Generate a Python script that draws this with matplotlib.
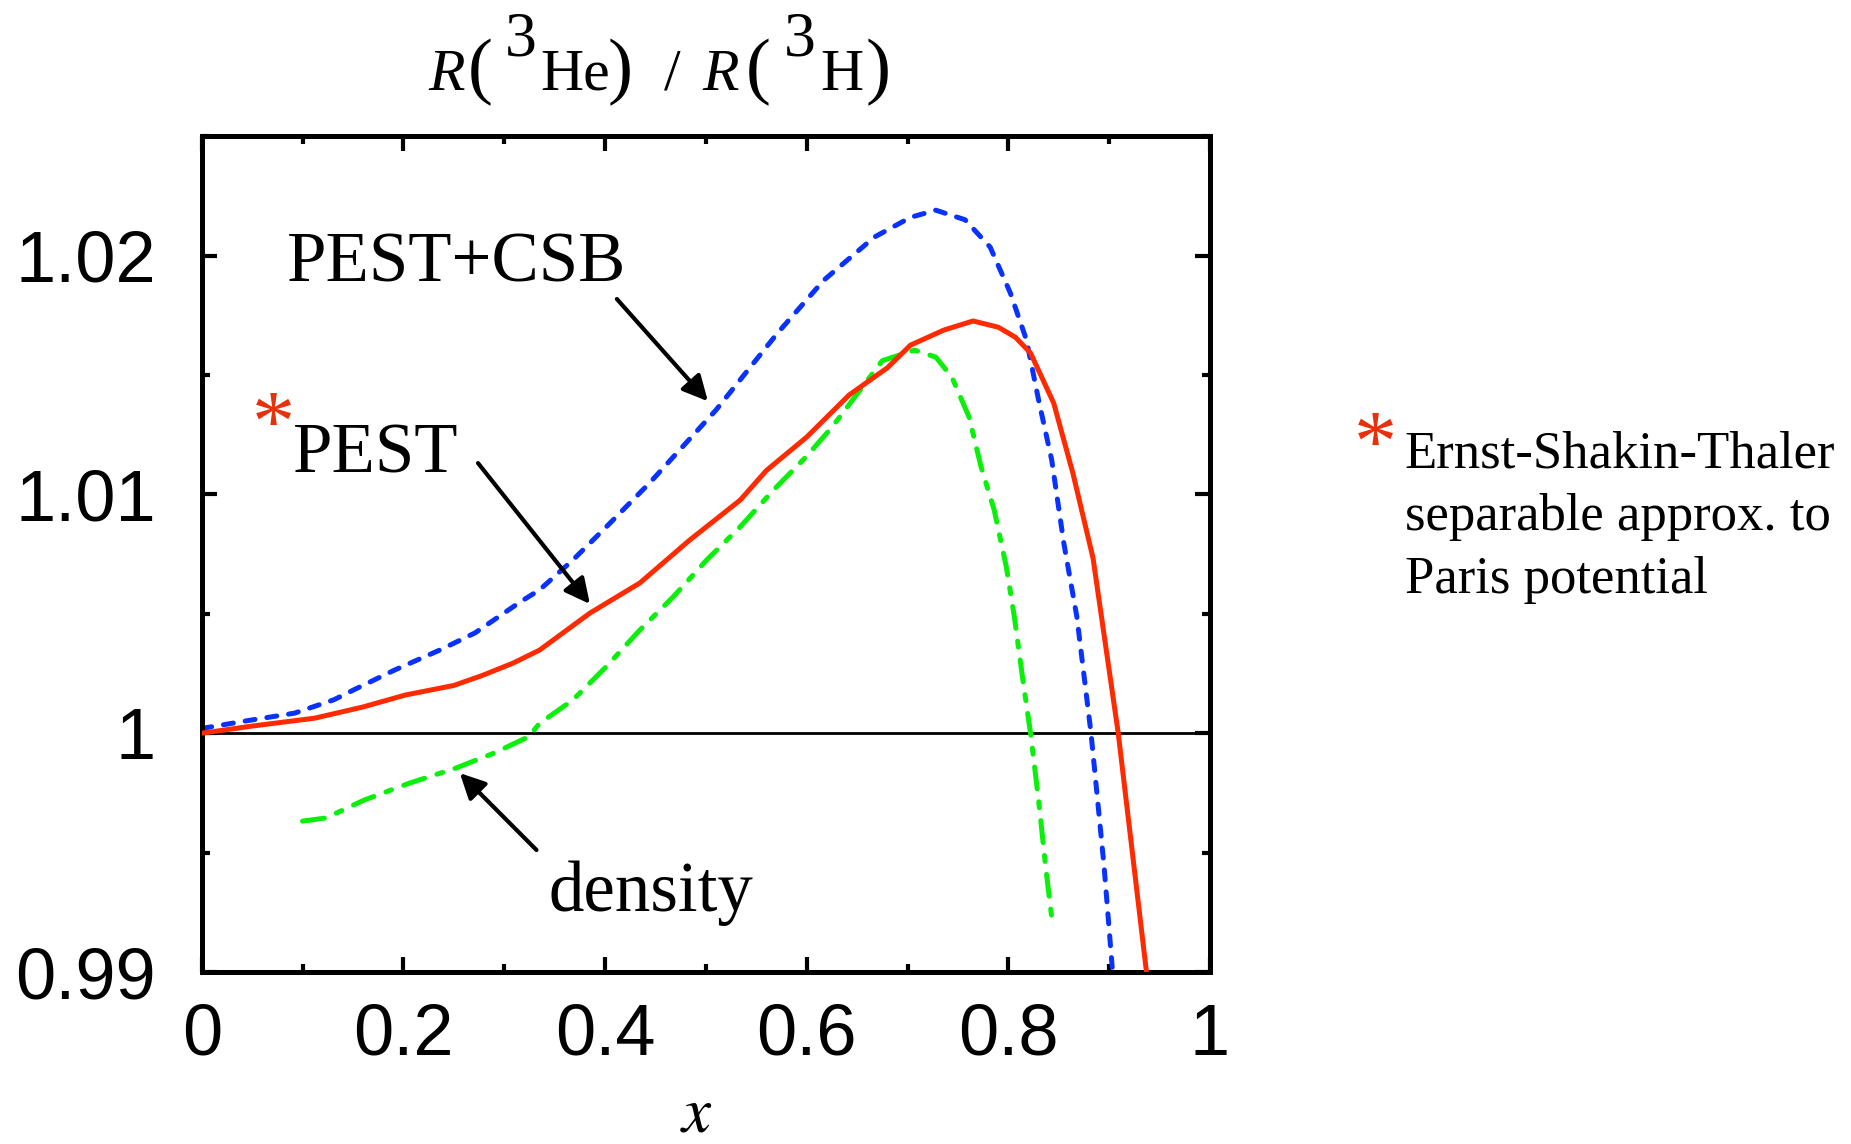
import numpy as np
import matplotlib
matplotlib.use("Agg")
import matplotlib.pyplot as plt
from matplotlib.ticker import MultipleLocator

plt.rcParams['mathtext.fontset'] = 'stix'
plt.rcParams['font.family'] = ['Liberation Sans', 'DejaVu Sans']

# PEST (solid red)
pest_x = [0.0, 0.05, 0.112, 0.16, 0.202, 0.25, 0.279, 0.309, 0.335, 0.385, 0.4345,
          0.484, 0.534, 0.56, 0.60, 0.642, 0.68, 0.703, 0.736, 0.765, 0.79, 0.807,
          0.822, 0.845, 0.864, 0.884, 0.909, 0.937]
pest_y = [1.0, 1.0003, 1.00063, 1.0011, 1.0016, 1.0020, 1.00243, 1.00294, 1.00348,
          1.00503, 1.00629, 1.00809, 1.00976, 1.0110, 1.0124, 1.01416, 1.0153, 1.01625,
          1.01688, 1.01726, 1.0170, 1.01658, 1.01592, 1.01382, 1.01089, 1.00733,
          1.0000, 0.990]

# PEST+CSB (dashed blue)
csb_x = [0.0, 0.043, 0.092, 0.131, 0.150, 0.191, 0.237, 0.271, 0.316, 0.335, 0.368,
         0.401, 0.444, 0.510, 0.571, 0.617, 0.667, 0.703, 0.728, 0.757, 0.782, 0.802,
         0.818, 0.830, 0.843, 0.855, 0.868, 0.882, 0.895, 0.903]
csb_y = [1.0002, 1.00051, 1.00084, 1.0014, 1.0018, 1.00264, 1.0035, 1.0042, 1.0055,
         1.0060, 1.00725, 1.00863, 1.01047, 1.01353, 1.01675, 1.01897, 1.02077, 1.0216,
         1.0219, 1.0215, 1.02035, 1.01843, 1.01646, 1.01395, 1.01144, 1.00796,
         1.00486, 1.0000, 0.9944, 0.9902]

# density (dash-dot green)
dens_x = [0.100, 0.123, 0.161, 0.206, 0.252, 0.290, 0.324, 0.335, 0.368, 0.401,
          0.4345, 0.4676, 0.5007, 0.534, 0.567, 0.600, 0.625, 0.675, 0.707, 0.728,
          0.744, 0.761, 0.773, 0.786, 0.798, 0.806, 0.814, 0.822, 0.830, 0.837, 0.843]
dens_y = [0.99632, 0.99645, 0.9972, 0.99791, 0.99854, 0.99917, 0.99985, 1.00041,
          1.00139, 1.00278, 1.00432, 1.00571, 1.00725, 1.00864, 1.01018, 1.0116,
          1.01281, 1.0156, 1.01604, 1.01575, 1.01491, 1.01324, 1.01114, 1.00934,
          1.00696, 1.00486, 1.00235, 1.0000, 0.9972, 0.9944, 0.9923]

x_ticks = [0, 0.2, 0.4, 0.6, 0.8, 1]
x_labels = ['0', '0.2', '0.4', '0.6', '0.8', '1']
y_ticks = [0.99, 1.0, 1.01, 1.02]
y_labels = ['0.99', '1', '1.01', '1.02']

W, H = 1851, 1144
fig = plt.figure(figsize=(W / 100, H / 100), dpi=100)
ax = fig.add_axes([0.109, 0.1503, 0.5447, 0.7307])

ax.axhline(1.0, color='k', lw=2.0, zorder=1)
ax.plot(pest_x, pest_y, color='#ff2a00', lw=3.6, zorder=3)
ax.plot(csb_x, csb_y, color='#0a32ff', lw=3.6, dashes=(2.0, 2.4),
        dash_capstyle='round', zorder=2)
ax.plot(dens_x, dens_y, color='#0af00a', lw=3.6, dashes=(4.4, 2.6, 1.2, 2.6),
        dash_capstyle='round', zorder=2)

ax.set_xlim(0, 1)
ax.set_ylim(0.99, 1.025)
ax.set_xticks(x_ticks)
ax.set_xticklabels(x_labels)
ax.set_yticks(y_ticks)
ax.set_yticklabels(y_labels)
ax.xaxis.set_minor_locator(MultipleLocator(0.1))
ax.yaxis.set_minor_locator(MultipleLocator(0.005))
ax.tick_params(which='both', direction='in', top=True, right=True, width=3)
ax.tick_params(which='major', length=10.5)
ax.tick_params(which='minor', length=6)
ax.tick_params(axis='x', which='major', labelsize=52, pad=22)
ax.tick_params(axis='y', which='major', labelsize=52, pad=33)
for sp in ax.spines.values():
    sp.set_linewidth(3.6)

serif = ['Liberation Serif', 'DejaVu Serif']
red_star = '#e8300a'
arrow = dict(arrowstyle='-|>', color='k', lw=3, mutation_scale=38,
             shrinkA=0, shrinkB=0)

ax.text(0.084, 1.01893, 'PEST+CSB', family=serif, fontsize=51, va='baseline')
ax.annotate('', xy=(0.502, 1.0139), xytext=(0.4117, 1.01818), arrowprops=arrow)

ax.text(0.0714, 1.01185, '*', family=serif, fontsize=62, color=red_star,
        ha='center', va='baseline')
ax.text(0.090, 1.01093, 'PEST', family=serif, fontsize=51, va='baseline')
ax.annotate('', xy=(0.385, 1.00541), xytext=(0.274, 1.01131), arrowprops=arrow)

ax.text(0.344, 0.99255, 'density', family=serif, fontsize=51, va='baseline')
ax.annotate('', xy=(0.256, 0.99833), xytext=(0.332, 0.99511), arrowprops=arrow)

# title R(3He) / R(3H): pieces laid left to right, the mass number kept full size
# (text, fontsize, style, baseline in px from top, wanted left edge in px)
base, raised = 90, 56
title_parts = [
    ('R', 43, 'italic', base, 428),
    ('(', 54, 'normal', base, 468),
    ('3', 46, 'normal', raised, 505),
    ('He', 43, 'normal', base, 540),
    (')', 54, 'normal', base, 608),
    ('/', 43, 'normal', base, 664),
    ('R', 43, 'italic', base, 702),
    ('(', 54, 'normal', base, 746),
    ('3', 46, 'normal', raised, 784),
    ('H', 43, 'normal', base, 820),
    (')', 54, 'normal', base, 866),
]
renderer = fig.canvas.get_renderer()
x_end = 0
for s, size, style, yb, xl in title_parts:
    xl = max(xl, x_end - 6)
    t = fig.text(xl / W, 1 - yb / H, s, family=serif, fontsize=size, style=style,
                 ha='left', va='baseline')
    x_end = t.get_window_extent(renderer).x1

fig.text(0.376, 0.026, r'$x$', fontsize=47, ha='center', va='center')

fig.text(0.743, 0.589, '*', family=serif, fontsize=62, color=red_star,
         ha='center', va='baseline')
fig.text(0.759, 0.548, 'Ernst-Shakin-Thaler\nseparable approx. to\nParis potential',
         family=serif, fontsize=38, ha='left', va='center', linespacing=1.4)

fig.savefig('out.png', dpi=100)
